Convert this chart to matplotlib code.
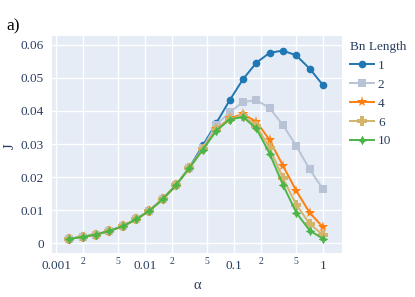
import matplotlib
matplotlib.use("Agg")
import matplotlib.pyplot as plt
from matplotlib.ticker import FixedLocator, FixedFormatter

alpha = [0.00141, 0.002, 0.00282, 0.00398, 0.00562, 0.00794, 0.0112, 0.0158,
         0.0224, 0.0316, 0.0447, 0.0631, 0.0891, 0.126, 0.178, 0.251, 0.355,
         0.501, 0.708, 1.0]
J_1 = [0.0013, 0.0019, 0.0026, 0.0037, 0.0051, 0.0072, 0.0098, 0.0133, 0.0176, 0.0229,
       0.0296, 0.0363, 0.0432, 0.0496, 0.0546, 0.0576, 0.0583, 0.0568, 0.0528, 0.0478]
J_2 = [0.0013, 0.0019, 0.0026, 0.0037, 0.0051, 0.0072, 0.0098, 0.0133, 0.0176, 0.0228,
       0.0289, 0.0358, 0.0396, 0.0427, 0.0433, 0.0409, 0.0357, 0.0294, 0.0223, 0.0163]
J_4 = [0.0013, 0.0019, 0.0026, 0.0037, 0.0051, 0.0072, 0.0098, 0.0133, 0.0176, 0.0228,
       0.0285, 0.0344, 0.0378, 0.0390, 0.0368, 0.0312, 0.0234, 0.0158, 0.0092, 0.0048]
J_6 = [0.0013, 0.0019, 0.0026, 0.0037, 0.0051, 0.0072, 0.0098, 0.0133, 0.0176, 0.0228,
       0.0284, 0.0342, 0.0376, 0.0385, 0.0355, 0.0288, 0.0196, 0.0116, 0.0058, 0.0025]
J_10 = [0.0013, 0.0019, 0.0026, 0.0037, 0.0051, 0.0072, 0.0098, 0.0133, 0.0176, 0.0228,
        0.0283, 0.0340, 0.0374, 0.0382, 0.0347, 0.0271, 0.0176, 0.0092, 0.0038, 0.0013]
labels = ["1", "2", "4", "6", "10"]
y_ticks = [0, 0.01, 0.02, 0.03, 0.04, 0.05, 0.06]
y_ticklabels = ["0", "0.01", "0.02", "0.03", "0.04", "0.05", "0.06"]
x_major = [0.001, 0.01, 0.1, 1]
x_major_labels = ["0.001", "0.01", "0.1", "1"]
x_minor = [0.002, 0.005, 0.02, 0.05, 0.2, 0.5]
x_minor_labels = ["2", "5", "2", "5", "2", "5"]

plt.rcParams['font.family'] = ['Liberation Serif', 'DejaVu Serif']
txt = '#2a3f5f'

fig = plt.figure(figsize=(4.15, 2.97), dpi=100)
ax = fig.add_axes([52/415, 1-253/297, (342-52)/415, (253-36)/297])
ax.set_facecolor('#E5ECF6')

series = [J_1, J_2, J_4, J_6, J_10]
colors = ['#1f77b4', '#b8c4d6', '#ff7f0e', '#d4b46a', '#4cb547']
markers = ['o', 's', '*', 'P', (4, 1, 0)]
msizes = [5.5, 5.5, 8, 6.5, 7]
for ys, c, m, ms, lab in zip(series, colors, markers, msizes, labels):
    ax.plot(alpha, ys, color=c, marker=m, markersize=ms, linewidth=1.4,
            markeredgewidth=0, label=lab)

ax.set_xscale('log')
ax.set_xlim(10**-3.045, 10**0.213)
ax.set_ylim(-0.003, 0.0627)
ax.xaxis.set_major_locator(FixedLocator(x_major))
ax.xaxis.set_major_formatter(FixedFormatter(x_major_labels))
ax.xaxis.set_minor_locator(FixedLocator(x_minor))
ax.xaxis.set_minor_formatter(FixedFormatter(x_minor_labels))
ax.set_yticks(y_ticks)
ax.set_yticklabels(y_ticklabels)
ax.grid(True, which='both', color='white', linewidth=1)
ax.set_axisbelow(True)
for s in ax.spines.values():
    s.set_visible(False)
ax.tick_params(axis='both', which='both', length=0, colors=txt)
ax.tick_params(axis='x', which='major', labelsize=9.5, pad=5)
ax.tick_params(axis='x', which='minor', labelsize=7, pad=3)
ax.tick_params(axis='y', labelsize=9.5, pad=6)

ax.set_xlabel('α', color=txt, fontsize=10.5, labelpad=5)
fig.text(10/415, 1-146/297, 'J', rotation=90, color=txt, fontsize=10.5,
         ha='center', va='center')

fig.text(6/415, 1-26/297, 'a)', fontsize=12.5, color='black', va='center', ha='left')

leg = ax.legend(title='Bn Length', loc='upper left', bbox_to_anchor=(1.01, 1.0),
                frameon=False, fontsize=9.5, title_fontsize=9.5,
                handlelength=1.8, handletextpad=0.3, labelspacing=0.5,
                borderaxespad=0.0)
leg._legend_box.align = 'left'
for t in leg.get_texts():
    t.set_color(txt)
leg.get_title().set_color(txt)

fig.savefig('out.png', dpi=100)
